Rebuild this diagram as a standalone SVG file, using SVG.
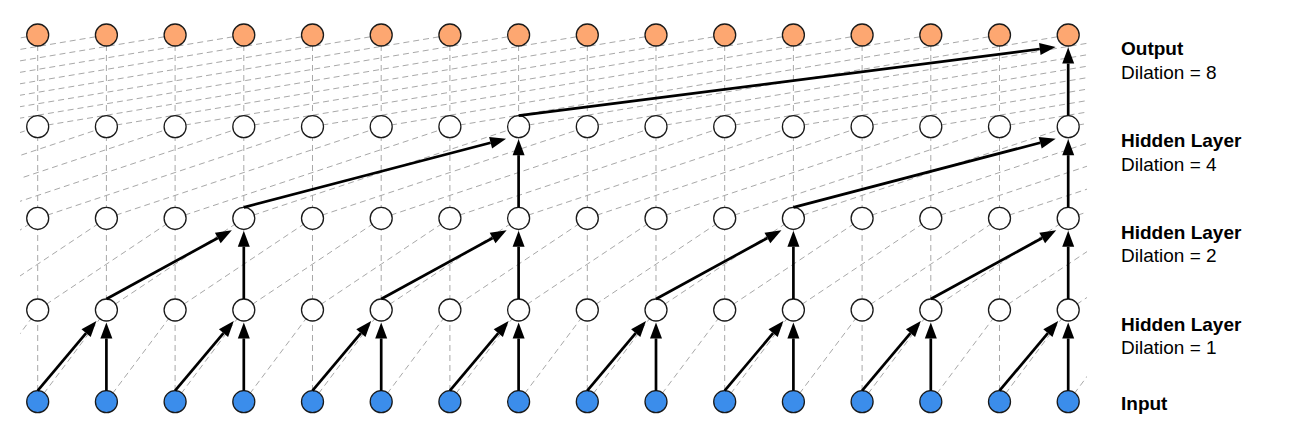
<svg xmlns="http://www.w3.org/2000/svg" xmlns:xlink="http://www.w3.org/1999/xlink" width="1290" height="440" viewBox="0 0 1290 440">
<style>
.dash{stroke:#a8a8a8;stroke-width:1;stroke-dasharray:6 4;fill:none}
.arr{stroke:#000;stroke-width:2.7;fill:none;marker-end:url(#ah)}
.n{stroke:#1a1a1a;stroke-width:1.3}
.in{fill:#3b8deb}
.hid{fill:#fff}
.out{fill:#fda771}
.lb{font-family:"Liberation Sans",Arial,Helvetica,sans-serif;font-size:19px;fill:#000}
.b{font-weight:bold}
</style>
<defs>
<marker id="ah" markerUnits="userSpaceOnUse" markerWidth="17" markerHeight="13" refX="0" refY="6" orient="auto" overflow="visible"><path d="M0,0 L16,6 L0,12 z" fill="#000"/></marker>
<clipPath id="clip"><rect x="20" y="0" width="1067" height="440"/></clipPath>
<line id="v" class="dash" x1="37.7" y1="35" x2="37.7" y2="401.67"/>
<line id="d1" class="dash" x1="-31" y1="401.67" x2="37.7" y2="310"/>
<line id="d2" class="dash" x1="-99.7" y1="310" x2="37.7" y2="218.33"/>
<line id="d4" class="dash" x1="-237.1" y1="218.33" x2="37.7" y2="126.67"/>
<line id="d8" class="dash" x1="-511.9" y1="126.67" x2="37.7" y2="35"/>
</defs>
<g id="guides" clip-path="url(#clip)">
<use xlink:href="#v" x="0"/><use xlink:href="#v" x="68.7"/><use xlink:href="#v" x="137.4"/><use xlink:href="#v" x="206.1"/><use xlink:href="#v" x="274.8"/><use xlink:href="#v" x="343.5"/><use xlink:href="#v" x="412.2"/><use xlink:href="#v" x="480.9"/><use xlink:href="#v" x="549.6"/><use xlink:href="#v" x="618.3"/><use xlink:href="#v" x="687"/><use xlink:href="#v" x="755.7"/><use xlink:href="#v" x="824.4"/><use xlink:href="#v" x="893.1"/><use xlink:href="#v" x="961.8"/><use xlink:href="#v" x="1030.5"/>
<use xlink:href="#d1" x="0"/><use xlink:href="#d1" x="68.7"/><use xlink:href="#d1" x="137.4"/><use xlink:href="#d1" x="206.1"/><use xlink:href="#d1" x="274.8"/><use xlink:href="#d1" x="343.5"/><use xlink:href="#d1" x="412.2"/><use xlink:href="#d1" x="480.9"/><use xlink:href="#d1" x="549.6"/><use xlink:href="#d1" x="618.3"/><use xlink:href="#d1" x="687"/><use xlink:href="#d1" x="755.7"/><use xlink:href="#d1" x="824.4"/><use xlink:href="#d1" x="893.1"/><use xlink:href="#d1" x="961.8"/><use xlink:href="#d1" x="1030.5"/><use xlink:href="#d1" x="1099.2"/>
<use xlink:href="#d2" x="0"/><use xlink:href="#d2" x="68.7"/><use xlink:href="#d2" x="137.4"/><use xlink:href="#d2" x="206.1"/><use xlink:href="#d2" x="274.8"/><use xlink:href="#d2" x="343.5"/><use xlink:href="#d2" x="412.2"/><use xlink:href="#d2" x="480.9"/><use xlink:href="#d2" x="549.6"/><use xlink:href="#d2" x="618.3"/><use xlink:href="#d2" x="687"/><use xlink:href="#d2" x="755.7"/><use xlink:href="#d2" x="824.4"/><use xlink:href="#d2" x="893.1"/><use xlink:href="#d2" x="961.8"/><use xlink:href="#d2" x="1030.5"/><use xlink:href="#d2" x="1099.2"/><use xlink:href="#d2" x="1167.9"/>
<use xlink:href="#d4" x="0"/><use xlink:href="#d4" x="68.7"/><use xlink:href="#d4" x="137.4"/><use xlink:href="#d4" x="206.1"/><use xlink:href="#d4" x="274.8"/><use xlink:href="#d4" x="343.5"/><use xlink:href="#d4" x="412.2"/><use xlink:href="#d4" x="480.9"/><use xlink:href="#d4" x="549.6"/><use xlink:href="#d4" x="618.3"/><use xlink:href="#d4" x="687"/><use xlink:href="#d4" x="755.7"/><use xlink:href="#d4" x="824.4"/><use xlink:href="#d4" x="893.1"/><use xlink:href="#d4" x="961.8"/><use xlink:href="#d4" x="1030.5"/><use xlink:href="#d4" x="1099.2"/><use xlink:href="#d4" x="1167.9"/><use xlink:href="#d4" x="1236.6"/><use xlink:href="#d4" x="1305.3"/>
<use xlink:href="#d8" x="0"/><use xlink:href="#d8" x="68.7"/><use xlink:href="#d8" x="137.4"/><use xlink:href="#d8" x="206.1"/><use xlink:href="#d8" x="274.8"/><use xlink:href="#d8" x="343.5"/><use xlink:href="#d8" x="412.2"/><use xlink:href="#d8" x="480.9"/><use xlink:href="#d8" x="549.6"/><use xlink:href="#d8" x="618.3"/><use xlink:href="#d8" x="687"/><use xlink:href="#d8" x="755.7"/><use xlink:href="#d8" x="824.4"/><use xlink:href="#d8" x="893.1"/><use xlink:href="#d8" x="961.8"/><use xlink:href="#d8" x="1030.5"/><use xlink:href="#d8" x="1099.2"/><use xlink:href="#d8" x="1167.9"/><use xlink:href="#d8" x="1236.6"/><use xlink:href="#d8" x="1305.3"/><use xlink:href="#d8" x="1374"/><use xlink:href="#d8" x="1442.7"/><use xlink:href="#d8" x="1511.4"/><use xlink:href="#d8" x="1580.1"/>
</g>
<g id="nodes">
<g id="in0"><circle class="n in" cx="37.7" cy="401.67" r="11"/></g>
<g id="in1"><circle class="n in" cx="106.4" cy="401.67" r="11"/></g>
<g id="in2"><circle class="n in" cx="175.1" cy="401.67" r="11"/></g>
<g id="in3"><circle class="n in" cx="243.8" cy="401.67" r="11"/></g>
<g id="in4"><circle class="n in" cx="312.5" cy="401.67" r="11"/></g>
<g id="in5"><circle class="n in" cx="381.2" cy="401.67" r="11"/></g>
<g id="in6"><circle class="n in" cx="449.9" cy="401.67" r="11"/></g>
<g id="in7"><circle class="n in" cx="518.6" cy="401.67" r="11"/></g>
<g id="in8"><circle class="n in" cx="587.3" cy="401.67" r="11"/></g>
<g id="in9"><circle class="n in" cx="656" cy="401.67" r="11"/></g>
<g id="in10"><circle class="n in" cx="724.7" cy="401.67" r="11"/></g>
<g id="in11"><circle class="n in" cx="793.4" cy="401.67" r="11"/></g>
<g id="in12"><circle class="n in" cx="862.1" cy="401.67" r="11"/></g>
<g id="in13"><circle class="n in" cx="930.8" cy="401.67" r="11"/></g>
<g id="in14"><circle class="n in" cx="999.5" cy="401.67" r="11"/></g>
<g id="in15"><circle class="n in" cx="1068.2" cy="401.67" r="11"/></g>
<g id="h1_0"><circle class="n hid" cx="37.7" cy="310" r="11"/></g>
<g id="h1_1"><circle class="n hid" cx="106.4" cy="310" r="11"/></g>
<g id="h1_2"><circle class="n hid" cx="175.1" cy="310" r="11"/></g>
<g id="h1_3"><circle class="n hid" cx="243.8" cy="310" r="11"/></g>
<g id="h1_4"><circle class="n hid" cx="312.5" cy="310" r="11"/></g>
<g id="h1_5"><circle class="n hid" cx="381.2" cy="310" r="11"/></g>
<g id="h1_6"><circle class="n hid" cx="449.9" cy="310" r="11"/></g>
<g id="h1_7"><circle class="n hid" cx="518.6" cy="310" r="11"/></g>
<g id="h1_8"><circle class="n hid" cx="587.3" cy="310" r="11"/></g>
<g id="h1_9"><circle class="n hid" cx="656" cy="310" r="11"/></g>
<g id="h1_10"><circle class="n hid" cx="724.7" cy="310" r="11"/></g>
<g id="h1_11"><circle class="n hid" cx="793.4" cy="310" r="11"/></g>
<g id="h1_12"><circle class="n hid" cx="862.1" cy="310" r="11"/></g>
<g id="h1_13"><circle class="n hid" cx="930.8" cy="310" r="11"/></g>
<g id="h1_14"><circle class="n hid" cx="999.5" cy="310" r="11"/></g>
<g id="h1_15"><circle class="n hid" cx="1068.2" cy="310" r="11"/></g>
<g id="h2_0"><circle class="n hid" cx="37.7" cy="218.33" r="11"/></g>
<g id="h2_1"><circle class="n hid" cx="106.4" cy="218.33" r="11"/></g>
<g id="h2_2"><circle class="n hid" cx="175.1" cy="218.33" r="11"/></g>
<g id="h2_3"><circle class="n hid" cx="243.8" cy="218.33" r="11"/></g>
<g id="h2_4"><circle class="n hid" cx="312.5" cy="218.33" r="11"/></g>
<g id="h2_5"><circle class="n hid" cx="381.2" cy="218.33" r="11"/></g>
<g id="h2_6"><circle class="n hid" cx="449.9" cy="218.33" r="11"/></g>
<g id="h2_7"><circle class="n hid" cx="518.6" cy="218.33" r="11"/></g>
<g id="h2_8"><circle class="n hid" cx="587.3" cy="218.33" r="11"/></g>
<g id="h2_9"><circle class="n hid" cx="656" cy="218.33" r="11"/></g>
<g id="h2_10"><circle class="n hid" cx="724.7" cy="218.33" r="11"/></g>
<g id="h2_11"><circle class="n hid" cx="793.4" cy="218.33" r="11"/></g>
<g id="h2_12"><circle class="n hid" cx="862.1" cy="218.33" r="11"/></g>
<g id="h2_13"><circle class="n hid" cx="930.8" cy="218.33" r="11"/></g>
<g id="h2_14"><circle class="n hid" cx="999.5" cy="218.33" r="11"/></g>
<g id="h2_15"><circle class="n hid" cx="1068.2" cy="218.33" r="11"/></g>
<g id="h3_0"><circle class="n hid" cx="37.7" cy="126.67" r="11"/></g>
<g id="h3_1"><circle class="n hid" cx="106.4" cy="126.67" r="11"/></g>
<g id="h3_2"><circle class="n hid" cx="175.1" cy="126.67" r="11"/></g>
<g id="h3_3"><circle class="n hid" cx="243.8" cy="126.67" r="11"/></g>
<g id="h3_4"><circle class="n hid" cx="312.5" cy="126.67" r="11"/></g>
<g id="h3_5"><circle class="n hid" cx="381.2" cy="126.67" r="11"/></g>
<g id="h3_6"><circle class="n hid" cx="449.9" cy="126.67" r="11"/></g>
<g id="h3_7"><circle class="n hid" cx="518.6" cy="126.67" r="11"/></g>
<g id="h3_8"><circle class="n hid" cx="587.3" cy="126.67" r="11"/></g>
<g id="h3_9"><circle class="n hid" cx="656" cy="126.67" r="11"/></g>
<g id="h3_10"><circle class="n hid" cx="724.7" cy="126.67" r="11"/></g>
<g id="h3_11"><circle class="n hid" cx="793.4" cy="126.67" r="11"/></g>
<g id="h3_12"><circle class="n hid" cx="862.1" cy="126.67" r="11"/></g>
<g id="h3_13"><circle class="n hid" cx="930.8" cy="126.67" r="11"/></g>
<g id="h3_14"><circle class="n hid" cx="999.5" cy="126.67" r="11"/></g>
<g id="h3_15"><circle class="n hid" cx="1068.2" cy="126.67" r="11"/></g>
<g id="out0"><circle class="n out" cx="37.7" cy="35" r="11"/></g>
<g id="out1"><circle class="n out" cx="106.4" cy="35" r="11"/></g>
<g id="out2"><circle class="n out" cx="175.1" cy="35" r="11"/></g>
<g id="out3"><circle class="n out" cx="243.8" cy="35" r="11"/></g>
<g id="out4"><circle class="n out" cx="312.5" cy="35" r="11"/></g>
<g id="out5"><circle class="n out" cx="381.2" cy="35" r="11"/></g>
<g id="out6"><circle class="n out" cx="449.9" cy="35" r="11"/></g>
<g id="out7"><circle class="n out" cx="518.6" cy="35" r="11"/></g>
<g id="out8"><circle class="n out" cx="587.3" cy="35" r="11"/></g>
<g id="out9"><circle class="n out" cx="656" cy="35" r="11"/></g>
<g id="out10"><circle class="n out" cx="724.7" cy="35" r="11"/></g>
<g id="out11"><circle class="n out" cx="793.4" cy="35" r="11"/></g>
<g id="out12"><circle class="n out" cx="862.1" cy="35" r="11"/></g>
<g id="out13"><circle class="n out" cx="930.8" cy="35" r="11"/></g>
<g id="out14"><circle class="n out" cx="999.5" cy="35" r="11"/></g>
<g id="out15"><circle class="n out" cx="1068.2" cy="35" r="11"/></g>
</g>
<g id="connectors">
<path class="arr" d="M37.7 390.67 L86.1 333.2"/><path class="arr" d="M106.4 390.67 L106.4 338.5"/>
<path class="arr" d="M175.1 390.67 L223.5 333.2"/><path class="arr" d="M243.8 390.67 L243.8 338.5"/>
<path class="arr" d="M312.5 390.67 L360.9 333.2"/><path class="arr" d="M381.2 390.67 L381.2 338.5"/>
<path class="arr" d="M449.9 390.67 L498.3 333.2"/><path class="arr" d="M518.6 390.67 L518.6 338.5"/>
<path class="arr" d="M587.3 390.67 L635.7 333.2"/><path class="arr" d="M656 390.67 L656 338.5"/>
<path class="arr" d="M724.7 390.67 L773.1 333.2"/><path class="arr" d="M793.4 390.67 L793.4 338.5"/>
<path class="arr" d="M862.1 390.67 L910.5 333.2"/><path class="arr" d="M930.8 390.67 L930.8 338.5"/>
<path class="arr" d="M999.5 390.67 L1047.9 333.2"/><path class="arr" d="M1068.2 390.67 L1068.2 338.5"/>
<path class="arr" d="M106.4 299 L217.8 238"/><path class="arr" d="M243.8 299 L243.8 246.83"/>
<path class="arr" d="M381.2 299 L492.6 238"/><path class="arr" d="M518.6 299 L518.6 246.83"/>
<path class="arr" d="M656 299 L767.4 238"/><path class="arr" d="M793.4 299 L793.4 246.83"/>
<path class="arr" d="M930.8 299 L1042.2 238"/><path class="arr" d="M1068.2 299 L1068.2 246.83"/>
<path class="arr" d="M243.8 207.33 L490.6 142.7"/><path class="arr" d="M518.6 207.33 L518.6 155.17"/>
<path class="arr" d="M793.4 207.33 L1040.2 142.7"/><path class="arr" d="M1068.2 207.33 L1068.2 155.17"/>
<path class="arr" d="M518.6 115.67 L1039.8 49"/><path class="arr" d="M1068.2 115.67 L1068.2 63.5"/>
</g>
<g id="labels">
<text class="lb b" x="1121" y="55">Output</text>
<text class="lb" x="1121" y="79">Dilation = 8</text>
<text class="lb b" x="1121" y="147">Hidden Layer</text>
<text class="lb" x="1121" y="170.5">Dilation = 4</text>
<text class="lb b" x="1121" y="238.8">Hidden Layer</text>
<text class="lb" x="1121" y="262">Dilation = 2</text>
<text class="lb b" x="1121" y="330.5">Hidden Layer</text>
<text class="lb" x="1121" y="354">Dilation = 1</text>
<text class="lb b" x="1121" y="409.5">Input</text>
</g>
</svg>
